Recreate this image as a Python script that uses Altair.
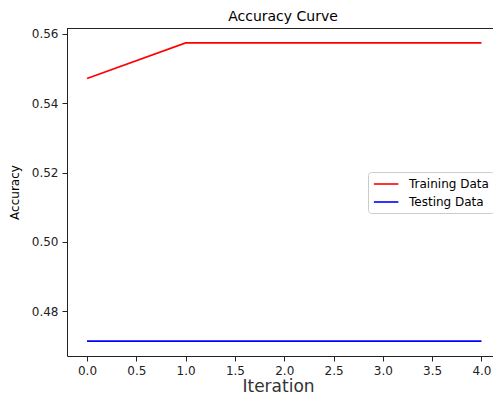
import altair as alt
import pandas as pd

iterations = [0, 1, 2, 3, 4]
training = [0.5471, 0.5574, 0.5574, 0.5574, 0.5574]
testing = [0.4714, 0.4714, 0.4714, 0.4714, 0.4714]
series_names = ["Training Data", "Testing Data"]
series_colors = ["#ff0000", "#0000ff"]
x_ticks = [0, 0.5, 1.0, 1.5, 2.0, 2.5, 3.0, 3.5, 4.0]
y_ticks = [0.48, 0.50, 0.52, 0.54, 0.56]

rows = []
for i, v in zip(iterations, training):
    rows.append({"Iteration": i, "Accuracy": v, "Series": series_names[0]})
for i, v in zip(iterations, testing):
    rows.append({"Iteration": i, "Accuracy": v, "Series": series_names[1]})
df = pd.DataFrame(rows)

W, H = 426, 328
FONT = "DejaVu Sans"

lines = alt.Chart(df).mark_line(strokeWidth=1.6).encode(
    x=alt.X("Iteration:Q",
            scale=alt.Scale(domain=[-0.203, 4.117], nice=False, zero=False),
            axis=alt.Axis(values=x_ticks, format=".1f", title="Iteration",
                          titleFontSize=17, titleFont=FONT, titleFontWeight="normal",
                          titleColor="#333", titleX=211, titleY=35,
                          titleBaseline="alphabetic")),
    y=alt.Y("Accuracy:Q",
            scale=alt.Scale(domain=[0.4671, 0.5617], nice=False, zero=False),
            axis=alt.Axis(values=y_ticks, format=".2f", title="Accuracy",
                          titleFontSize=12, titleFont=FONT, titleFontWeight="normal",
                          titleColor="#000", titlePadding=10)),
    color=alt.Color("Series:N",
                    scale=alt.Scale(domain=series_names, range=series_colors),
                    sort=series_names,
                    legend=alt.Legend(title=None, orient="none", legendX=301, legendY=144,
                                      symbolType="M-1,0L3,0", symbolSize=150,
                                      symbolStrokeWidth=1.6,
                                      labelFontSize=12, labelFont=FONT, labelColor="#000",
                                      fillColor="white", strokeColor="#cccccc", cornerRadius=3,
                                      padding=5, rowPadding=5, labelOffset=22)),
)

top_spine = alt.Chart(df).mark_rule(color="#222", strokeWidth=1).encode(
    x=alt.value(0), x2=alt.value(W), y=alt.value(0.5)
)

chart = alt.layer(lines, top_spine).properties(
    width=W, height=H,
    title=alt.TitleParams("Accuracy Curve", fontSize=14, font=FONT, fontWeight="normal",
                          color="#000", anchor="middle", dx=3, offset=4),
    autosize=alt.AutoSizeParams(type="none"),
    padding={"left": 59, "top": 20, "right": 0, "bottom": 38},
).configure_view(stroke=None).configure_axis(
    grid=False, domainColor="#222", tickColor="#222", labelColor="#222",
    labelFont=FONT, labelFontSize=12, tickSize=5, labelPadding=4
)

chart.save("out.html", embed_options={"renderer": "svg", "actions": False})
